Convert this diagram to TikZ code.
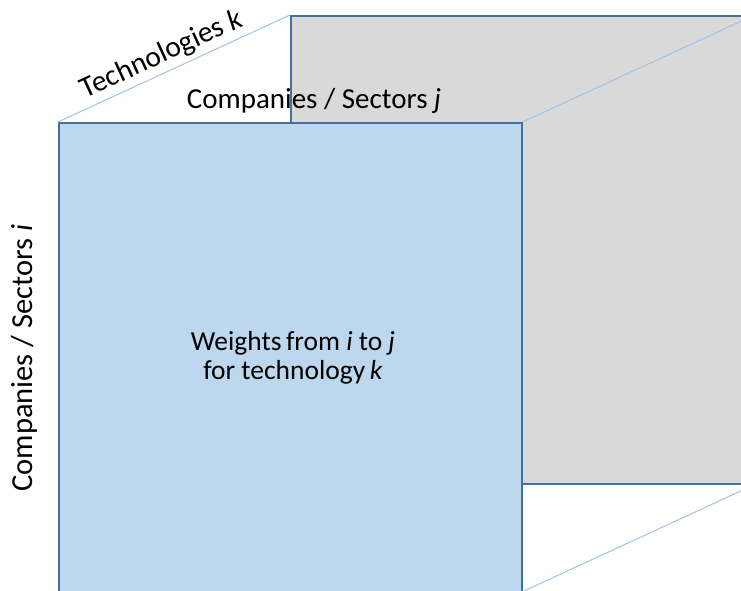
\documentclass[tikz,border=0pt]{standalone}
\usepackage{fontspec}
\setmainfont{Carlito}
\usepackage{xcolor}
\usepackage{tikz}
\usetikzlibrary{positioning,calc}

\definecolor{faceblue}{HTML}{BDD7EE}
\definecolor{facegray}{HTML}{D9D9D9}
\definecolor{edgeblue}{HTML}{41719C}
\definecolor{depthblue}{HTML}{9DC3E6}

\begin{document}
\begin{tikzpicture}[x=1pt, y=-1pt,
    face/.style={rectangle, draw=edgeblue, line width=1.6pt, fill=#1, minimum width=463pt, minimum height=468pt, inner sep=0pt, anchor=north west},
    face/.default=faceblue,
    depth/.style={draw=depthblue, line width=1pt},
    lbl/.style={font=\fontsize{#1}{29}\selectfont, inner sep=0pt, text=black},
    lbl/.default=28
]
    \useasboundingbox (0,0) rectangle (741,590);
    \clip (0,0) rectangle (741,590);

    % Back face (cut by the picture edge)
    \node[face=facegray] (back) at (290,15) {};

    % Front face, its lower edge below the picture
    \node[face=faceblue, minimum height=472pt] (front) at (58,122) {};

    % Depth edges
    \draw[depth] (front.north west) -- node[lbl=29.5, sloped, above=4pt, pos=0.48] (techk) {Technologies \textit{k}} (back.north west);
    \draw[depth] (front.north east) -- (back.north east);
    \draw[depth] ([yshift=4pt]front.south east) -- (back.south east);

    % Axis labels
    \node[lbl=29] (colj) at (314,101) {Companies / Sectors \textit{j}};
    \node[lbl=30.5, rotate=90] (rowi) at (24,358) {Companies / Sectors \textit{i}};

    % Inner text
    \node[lbl=27.5, align=center] (weights) at (293,358) {Weights\,from \textit{i} to \textit{j}\\for technology\,\textit{k}};

\end{tikzpicture}
\end{document}
